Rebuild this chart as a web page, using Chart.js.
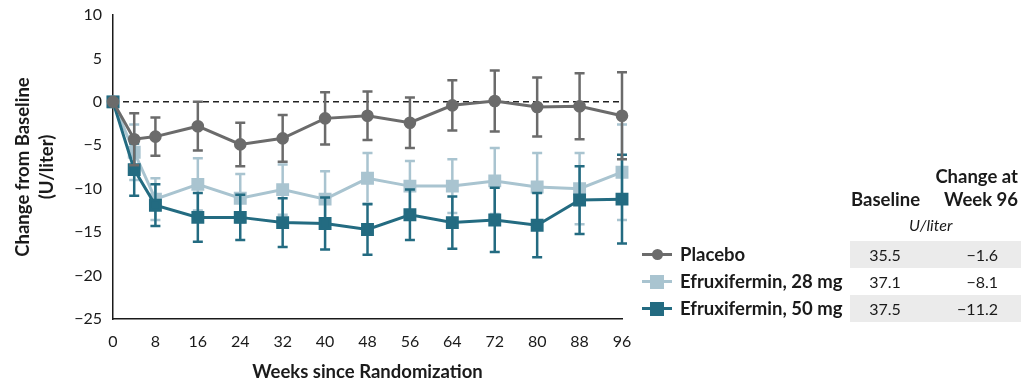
<!DOCTYPE html>
<html>
<head>
<meta charset="utf-8">
<script src="https://cdn.jsdelivr.net/npm/chart.js@4.4.1/dist/chart.umd.min.js"></script>
<style>
  html, body { margin: 0; padding: 0; background: #fff; }
  body { width: 1021px; height: 383px; position: relative; overflow: hidden; font-family: Lato, "Open Sans", sans-serif; color: #1a1a1a; }
  #wrap { position: absolute; left: 0; top: 0; width: 1021px; height: 383px; }
  .side { position: absolute; font-size: 16px; }
  .hdr { position: absolute; font-weight: bold; font-size: 18.5px; line-height: 23px; }
  .row { position: absolute; left: 640px; width: 381px; height: 27px; }
  .row .shade { position: absolute; left: 210px; right: 0; top: 0; bottom: 0; background: #ebebeb; }
  .row .name { position: absolute; left: 40px; top: 2px; font-weight: bold; font-size: 18.5px; line-height: 23px; }
  .row .base { position: absolute; left: 215px; width: 60px; text-align: center; top: 4px; }
  .row .chg { position: absolute; right: 23px; top: 4px; text-align: right; }
  .mk { position: absolute; left: 2px; top: 12px; width: 30px; height: 3px; }
  .mk i { position: absolute; display: block; }
</style>
</head>
<body>
<div id="wrap"><canvas id="altChart" width="1021" height="383"></canvas></div>

<div class="hdr" style="left:851px; top:188px;">Baseline</div>
<div class="hdr" style="right:3px; top:165px; text-align:right;">Change at<br>Week 96</div>
<div class="side" style="left:909px; top:215px; font-style:italic;">U/liter</div>
<div id="table"></div>

<script>
// weeks of each visit
const weeks = [0, 4, 8, 16, 24, 32, 40, 48, 56, 64, 72, 80, 88, 96];
const xTicks = [0, 4, 8, 16, 24, 32, 40, 48, 56, 64, 72, 80, 88, 96];
const yTicks = [10, 5, 0, -5, -10, -15, -20, -25];

// mean change from baseline (U/liter)
const placebo = [0, -4.3, -4.0, -2.8, -4.9, -4.2, -1.9, -1.6, -2.4, -0.4, 0.1, -0.6, -0.5, -1.6];
const efx28 = [0, -5.8, -11.2, -9.5, -11.1, -10.1, -11.2, -8.8, -9.7, -9.7, -9.1, -9.8, -10.0, -8.1];
const efx50 = [0, -7.8, -11.9, -13.3, -13.3, -13.9, -14.0, -14.7, -13.0, -13.9, -13.6, -14.2, -11.3, -11.2];

// error bar half-widths
const placeboErr = [0, 3.0, 2.2, 2.8, 2.5, 2.7, 3.0, 2.8, 2.9, 2.9, 3.5, 3.4, 3.8, 5.0];
const efx28Err = [0, 3.2, 2.4, 3.0, 2.8, 2.9, 3.2, 2.9, 2.9, 3.1, 3.8, 3.9, 4.1, 5.5];
const efx50Err = [0, 3.0, 2.4, 2.8, 2.6, 2.8, 3.0, 2.9, 2.9, 3.0, 3.7, 3.7, 3.9, 5.1];

// table on the right
const groups = ['Placebo', 'Efruxifermin, 28 mg', 'Efruxifermin, 50 mg'];
const baselineVals = ['35.5', '37.1', '37.5'];
const week96Vals = ['\u22121.6', '\u22128.1', '\u221211.2'];

const colGray = '#6b6b6b';
const colLight = '#a9c4d0';
const colTeal = '#236b81';

const groupColors = [colGray, colLight, colTeal];

function toPoints(vals, errs) {
  return weeks.map((w, i) => ({ x: w, y: vals[i], err: errs[i] }));
}

// draw error bars for each dataset just before its line
const errorBars = {
  id: 'errorBars',
  beforeDatasetDraw(chart, args) {
    const ctx = chart.ctx;
    const ds = chart.data.datasets[args.index];
    const yScale = chart.scales.y;
    ctx.save();
    ctx.strokeStyle = ds.borderColor;
    ctx.lineWidth = 2.5;
    args.meta.data.forEach((pt, i) => {
      const raw = ds.data[i];
      if (!raw.err) return;
      const top = yScale.getPixelForValue(raw.y + raw.err);
      const bot = yScale.getPixelForValue(raw.y - raw.err);
      ctx.beginPath();
      ctx.moveTo(pt.x, top);
      ctx.lineTo(pt.x, bot);
      ctx.moveTo(pt.x - 5, top);
      ctx.lineTo(pt.x + 5, top);
      ctx.moveTo(pt.x - 5, bot);
      ctx.lineTo(pt.x + 5, bot);
      ctx.stroke();
    });
    ctx.restore();
  }
};

// dashed reference line at zero
const zeroLine = {
  id: 'zeroLine',
  beforeDatasetsDraw(chart) {
    const ctx = chart.ctx;
    const area = chart.chartArea;
    const y = chart.scales.y.getPixelForValue(0);
    ctx.save();
    ctx.strokeStyle = '#222';
    ctx.lineWidth = 1.5;
    ctx.setLineDash([6, 4]);
    ctx.beginPath();
    ctx.moveTo(area.left, y);
    ctx.lineTo(area.right, y);
    ctx.stroke();
    ctx.restore();
  }
};

Chart.defaults.font.family = 'Lato, "Open Sans", sans-serif';
Chart.defaults.color = '#1a1a1a';

const ctx = document.getElementById('altChart').getContext('2d');
const altChart = new Chart(ctx, {
  type: 'line',
  data: {
    datasets: [{
      label: groups[0],
      data: toPoints(placebo, placeboErr),
      borderColor: colGray,
      backgroundColor: colGray,
      pointStyle: 'circle',
      pointRadius: 4.8,
      borderWidth: 3
    }, {
      label: groups[2],
      data: toPoints(efx50, efx50Err),
      borderColor: colTeal,
      backgroundColor: colTeal,
      pointStyle: 'rect',
      pointRadius: 7,
      borderWidth: 3
    }, {
      label: groups[1],
      data: toPoints(efx28, efx28Err),
      borderColor: colLight,
      backgroundColor: colLight,
      pointStyle: 'rect',
      pointRadius: 7,
      borderWidth: 3
    }]
  },
  options: {
    responsive: false,
    animation: false,
    clip: false,
    layout: { padding: { top: 15, right: 399, left: 0, bottom: 0 } },
    elements: { point: { borderWidth: 0, hoverRadius: 5 }, line: { tension: 0 } },
    scales: {
      x: {
        type: 'linear',
        min: 0,
        max: 96,
        afterBuildTicks(scale) {
          scale.ticks = xTicks.map(v => ({ value: v }));
        },
        afterFit(scale) { scale.height = 64; },
        grid: { display: false, drawTicks: true, tickLength: 8, tickColor: '#1a1a1a', tickWidth: 1.5 },
        border: { display: true, color: '#1a1a1a', width: 1.5 },
        ticks: {
          autoSkip: false,
          maxRotation: 0,
          padding: 5,
          font: { size: 16 },
          callback: v => (v === 4 ? '' : String(v))
        },
        title: {
          display: true,
          text: 'Weeks since Randomization',
          font: { size: 18.5, weight: 'bold', lineHeight: 1.2 },
          padding: { top: 6, bottom: 0 }
        }
      },
      y: {
        min: -25,
        max: 10,
        afterBuildTicks(scale) {
          scale.ticks = yTicks.map(v => ({ value: v }));
        },
        afterFit(scale) { scale.width = 113; },
        grid: { display: false, drawTicks: true, tickLength: 8, tickColor: '#1a1a1a', tickWidth: 1.5 },
        border: { display: true, color: '#1a1a1a', width: 1.5 },
        ticks: {
          padding: 3,
          font: { size: 16 },
          callback: v => (v < 0 ? '\u2212' + Math.abs(v) : String(v))
        },
        title: {
          display: true,
          text: ['Change from Baseline', '(U/liter)'],
          font: { size: 18.5, weight: 'bold', lineHeight: 1.3 },
          padding: { top: 11, bottom: 0 }
        }
      }
    },
    plugins: {
      legend: { display: false },
      tooltip: { enabled: false }
    }
  },
  plugins: [zeroLine, errorBars]
});

// build legend rows with values
const table = document.getElementById('table');
const rowTops = [241, 268, 295];
groups.forEach((g, i) => {
  const row = document.createElement('div');
  row.className = 'row';
  row.style.top = rowTops[i] + 'px';
  const isCircle = i === 0;
  const size = isCircle ? 11 : 14;
  row.innerHTML =
    (i !== 1 ? '<div class="shade"></div>' : '') +
    '<div class="mk" style="background:' + groupColors[i] + '">' +
    '<i style="left:' + (15 - size / 2) + 'px; top:' + (1.5 - size / 2) + 'px; width:' + size + 'px; height:' + size + 'px; background:' + groupColors[i] + (isCircle ? '; border-radius:50%' : '') + '"></i></div>' +
    '<div class="name">' + g + '</div>' +
    '<div class="side base">' + baselineVals[i] + '</div>' +
    '<div class="side chg">' + week96Vals[i] + '</div>';
  table.appendChild(row);
});
</script>
</body>
</html>
